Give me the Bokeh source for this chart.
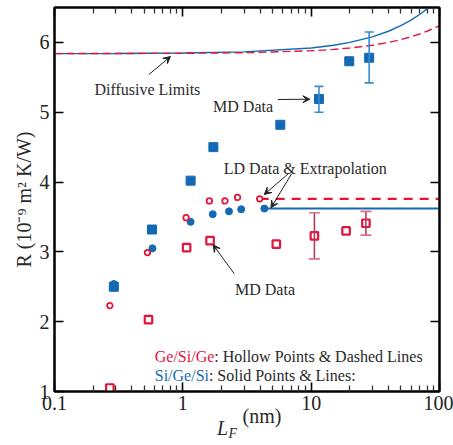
from math import pi
from bokeh.plotting import figure
from bokeh.models import (LogAxis, LinearAxis, FixedTicker, Range1d, Label, Arrow,
                          VeeHead, Whisker, TeeHead, ColumnDataSource, CustomJSTickFormatter)
from bokeh.embed import file_html
from bokeh.resources import INLINE

# ---------------- data ----------------
ld_ge_L = [0.27, 0.53, 1.06, 1.61, 2.13, 2.67, 3.97]
ld_ge_R = [2.23, 2.99, 3.49, 3.73, 3.73, 3.78, 3.76]
ld_si_L = [0.29, 0.58, 1.15, 1.71, 2.29, 2.85, 4.32]
ld_si_R = [2.54, 3.05, 3.43, 3.54, 3.58, 3.61, 3.62]
md_ge_L = [0.27, 0.54, 1.07, 1.63, 5.35, 10.6, 18.7, 26.7]
md_ge_R = [1.05, 2.03, 3.06, 3.16, 3.11, 3.23, 3.30, 3.41]
md_si_L = [0.29, 0.575, 1.15, 1.73, 5.75, 11.5, 19.8, 28.3]
md_si_R = [2.50, 3.32, 4.02, 4.50, 4.82, 5.19, 5.73, 5.78]
err_ge_L = [10.6, 26.7]
err_ge_lo = [2.90, 3.24]
err_ge_hi = [3.56, 3.58]
err_si_L = [11.5, 28.3]
err_si_lo = [5.00, 5.42]
err_si_hi = [5.37, 6.15]
ext_ge_L = [3.97, 100]
ext_ge_R = [3.76, 3.76]
ext_si_L = [4.32, 100]
ext_si_R = [3.62, 3.62]
diff_L = [0.1, 0.3, 1, 3, 10, 15, 20, 30, 40, 50, 60, 70, 80, 90, 100]
diff_si_R = [5.84, 5.842, 5.848, 5.864, 5.92, 5.96, 6.00, 6.08, 6.16, 6.24, 6.32, 6.40, 6.48, 6.56, 6.64]
diff_ge_R = [5.84, 5.841, 5.844, 5.852, 5.88, 5.90, 5.92, 5.96, 6.00, 6.04, 6.08, 6.12, 6.16, 6.20, 6.24]

x_ticks = [0.1, 1, 10, 100]
x_tick_labels = ["0.1", "1", "10", "100"]
x_minor = [0.2, 0.3, 0.4, 0.5, 0.6, 0.7, 0.8, 0.9, 2, 3, 4, 5, 6, 7, 8, 9,
           20, 30, 40, 50, 60, 70, 80, 90]
y_ticks = [1, 2, 3, 4, 5, 6]

RED = "#e2163c"
BLUE = "#1469b4"
TXT = "#2a2a2a"
FONT = "Liberation Serif"

p = figure(width=453, height=445, x_axis_type="log",
           x_range=Range1d(0.1, 100), y_range=Range1d(1, 6.5),
           output_backend="svg", toolbar_location=None,
           min_border_left=53, min_border_right=14,
           min_border_top=7, min_border_bottom=54)
p.background_fill_color = "white"
p.border_fill_color = "white"
p.grid.visible = False
p.outline_line_color = "black"
p.outline_line_width = 2

fmt = CustomJSTickFormatter(args=dict(t=x_ticks, l=x_tick_labels), code="""
for (let i = 0; i < t.length; i++) { if (Math.abs(Math.log10(tick) - Math.log10(t[i])) < 1e-6) return l[i]; }
return '';
""")

def style_axis(ax, show_labels):
    ax.axis_line_width = 2
    ax.axis_line_color = "black"
    ax.major_tick_in = 9
    ax.major_tick_out = 0
    ax.minor_tick_in = 6
    ax.minor_tick_out = 0
    ax.major_tick_line_width = 1.6
    ax.minor_tick_line_width = 1.3
    ax.major_tick_line_color = "black"
    ax.minor_tick_line_color = "#333333"
    ax.major_label_text_font = FONT
    ax.major_label_text_font_size = "20px"
    ax.major_label_text_color = "#222222"
    ax.major_label_standoff = 4 if show_labels else 0
    ax.axis_label_text_font = FONT
    ax.axis_label_text_font_size = "20px"
    ax.axis_label_text_font_style = "normal"
    ax.axis_label_text_color = TXT
    if not show_labels:
        ax.major_label_text_alpha = 0

xb = p.xaxis[0]
xb.ticker = FixedTicker(ticks=x_ticks, minor_ticks=x_minor)
xb.formatter = fmt
style_axis(xb, True)
xb.axis_label = "\u00a0" * 6 + "(nm)"
xb.axis_label_standoff = -8

xt = LogAxis(ticker=FixedTicker(ticks=x_ticks, minor_ticks=x_minor),
             formatter=CustomJSTickFormatter(code="return ''"))
style_axis(xt, False)
p.add_layout(xt, "above")

yl = p.yaxis[0]
yl.ticker = FixedTicker(ticks=y_ticks)
style_axis(yl, True)
yl.major_label_standoff = 5
yl.minor_tick_line_color = None
yl.axis_label = "R (10\u207b\u2079 m\u00b2 K/W)"
yl.axis_label_standoff = 2

yr = LinearAxis(ticker=FixedTicker(ticks=y_ticks), formatter=CustomJSTickFormatter(code="return ''"))
style_axis(yr, False)
yr.minor_tick_line_color = None
p.add_layout(yr, "right")

p.line(diff_L, diff_si_R, line_color=BLUE, line_width=1.4)
p.line(diff_L, diff_ge_R, line_color=RED, line_width=1.4, line_dash="8 4")
p.line(ext_si_L, ext_si_R, line_color=BLUE, line_width=2)
p.line(ext_ge_L, ext_ge_R, line_color=RED, line_width=2.2, line_dash="9 7")

p.scatter(md_si_L, md_si_R, marker="square", size=9, fill_color=BLUE, line_color=BLUE)
p.scatter(ld_si_L, ld_si_R, marker="circle", size=7, fill_color=BLUE, line_color=BLUE)
p.scatter(md_ge_L, md_ge_R, marker="square", size=7.5, fill_color="white",
          line_color=RED, line_width=2.2)
p.scatter(ld_ge_L, ld_ge_R, marker="circle", size=5.5, fill_color="white",
          line_color=RED, line_width=1.8)

src_ge = ColumnDataSource(dict(x=err_ge_L, lo=err_ge_lo, hi=err_ge_hi))
src_si = ColumnDataSource(dict(x=err_si_L, lo=err_si_lo, hi=err_si_hi))
w1 = Whisker(source=src_ge, base="x", lower="lo", upper="hi", dimension="height",
             line_color="#b23c64", line_width=1.6, level="overlay",
             upper_head=TeeHead(size=11, line_color="#e0708a", line_width=1.6),
             lower_head=TeeHead(size=11, line_color="#e0708a", line_width=1.6))
w2 = Whisker(source=src_si, base="x", lower="lo", upper="hi", dimension="height",
             line_color="#3a8ad4", line_width=1.6, level="overlay",
             upper_head=TeeHead(size=9, line_color="#3a8ad4", line_width=1.6),
             lower_head=TeeHead(size=9, line_color="#3a8ad4", line_width=1.6))
p.add_layout(w1)
p.add_layout(w2)

def X(px):
    return 10 ** (-1 + (px - 53) / 386 * 3)

def Y(py):
    return 1 + (391 - py) / 384 * 5.5

def txt(px, py, s, color=TXT, size="16px", style="normal", angle=0, place=None):
    lbl = Label(x=X(px), y=Y(py), text=s, text_color=color,
                text_font=FONT, text_font_size=size,
                text_font_style=style, angle=angle,
                text_align="left", text_baseline="alphabetic")
    if place is None:
        p.add_layout(lbl)
    else:
        p.add_layout(lbl, place)

def arrow(x0, y0, x1, y1):
    p.add_layout(Arrow(end=VeeHead(size=7, fill_color="#222222", line_color="#222222", line_width=1),
                       x_start=X(x0), y_start=Y(y0), x_end=X(x1), y_end=Y(y1),
                       line_color="#222222", line_width=1))

txt(93, 89, "Diffusive Limits")
arrow(147.7, 74, 169.3, 56)
txt(212, 105.5, "MD Data")
arrow(277, 99, 309, 98.7)
txt(222.7, 168, "LD Data & Extrapolation")
arrow(287.3, 173.3, 263.3, 194)
arrow(290.7, 173.3, 270, 207.3)
txt(234, 289.3, "MD Data")
arrow(233.3, 273.3, 212, 244.3)

txt(153.5, 355.7, "Ge/Si/Ge", color=RED)
txt(213.1, 355.7, ": Hollow Points & Dashed Lines")
txt(153.5, 375, "Si/Ge/Si", color=BLUE)
txt(207.8, 375, ": Solid Points & Lines:")

# x-axis title italic parts (placed in side panels so they are not clipped)
txt(216, 427, "L", size="20px", style="italic", place="right")
txt(227.5, 433, "F", size="14px", style="italic", place="left")

open("out.html", "w").write(file_html(p, INLINE))
